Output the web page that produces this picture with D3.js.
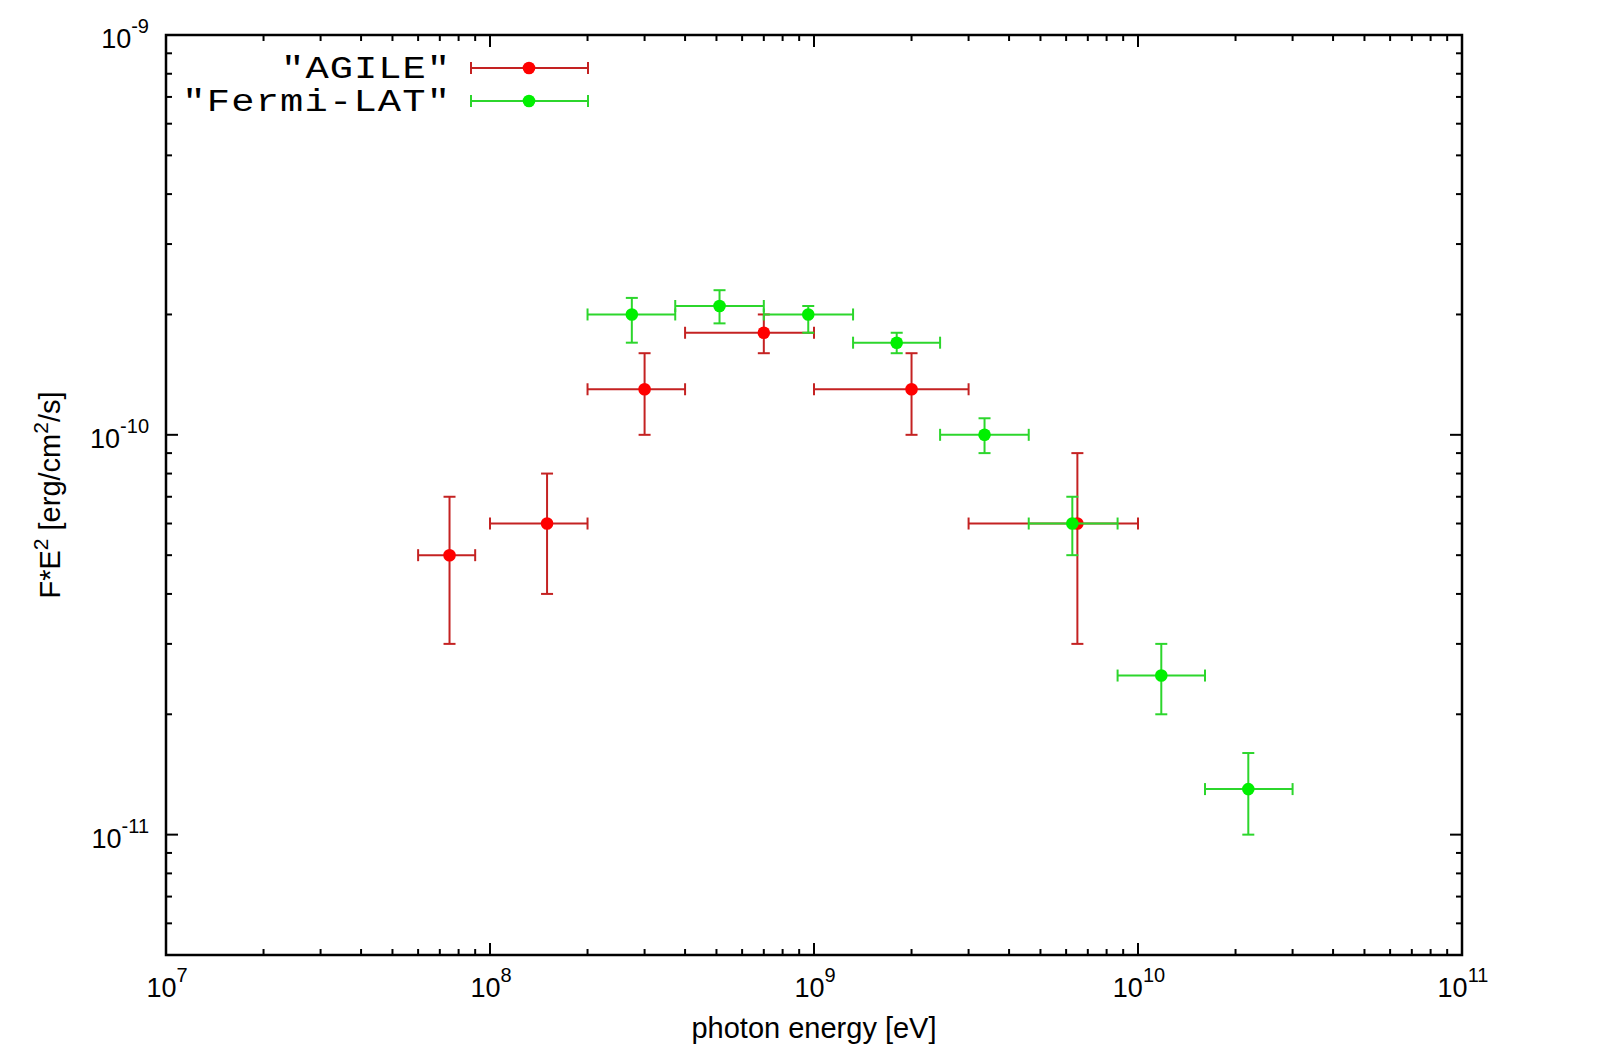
<!DOCTYPE html>
<html>
<head>
<meta charset="utf-8">
<script src="https://cdn.jsdelivr.net/npm/d3@7"></script>
<style>
  body { margin: 0; background: #fff; }
</style>
</head>
<body>
<div id="chart"></div>
<script>
// AGILE points: energy [eV], energy range, flux E^2F [erg/cm2/s], flux error range
var agileE    = [7.5e7, 1.5e8, 3e8, 7e8, 2e9, 6.5e9];
var agileElo  = [6e7, 1e8, 2e8, 4e8, 1e9, 3e9];
var agileEhi  = [9e7, 2e8, 4e8, 1e9, 3e9, 1e10];
var agileF    = [5e-11, 6e-11, 1.3e-10, 1.8e-10, 1.3e-10, 6e-11];
var agileFlo  = [3e-11, 4e-11, 1e-10, 1.6e-10, 1e-10, 3e-11];
var agileFhi  = [7e-11, 8e-11, 1.6e-10, 2e-10, 1.6e-10, 9e-11];

// Fermi-LAT points
var fermiE    = [2.74e8, 5.11e8, 9.6e8, 1.8e9, 3.36e9, 6.27e9, 1.18e10, 2.19e10];
var fermiElo  = [2e8, 3.73e8, 7e8, 1.32e9, 2.45e9, 4.6e9, 8.65e9, 1.61e10];
var fermiEhi  = [3.73e8, 7e8, 1.32e9, 2.45e9, 4.6e9, 8.65e9, 1.61e10, 3e10];
var fermiF    = [2.0e-10, 2.1e-10, 2.0e-10, 1.7e-10, 1.0e-10, 6e-11, 2.5e-11, 1.3e-11];
var fermiFlo  = [1.7e-10, 1.9e-10, 1.8e-10, 1.6e-10, 9e-11, 5e-11, 2e-11, 1e-11];
var fermiFhi  = [2.2e-10, 2.3e-10, 2.1e-10, 1.8e-10, 1.1e-10, 7e-11, 3e-11, 1.6e-11];

var seriesNames = ['"AGILE"', '"Fermi-LAT"'];

// Basic size information
var svgWidth = 1616, svgHeight = 1055;
var box = {left: 166, right: 1462, top: 35, bottom: 955};

var x = d3.scaleLog().domain([1e7, 1e11]).range([box.left, box.right]);
var y = d3.scaleLog().domain([5e-12, 1e-9]).range([box.bottom, box.top]);

var svg = d3.select("#chart")
    .append("svg")
        .attr("width", svgWidth)
        .attr("height", svgHeight)
        .style("background", "#fff");

var tickFont = "'Liberation Sans', Arial, sans-serif";

// Ticks on all four sides (mirrored, pointing inward)
var isMajor = v => Math.abs(Math.log10(v) - Math.round(Math.log10(v))) < 1e-6;
var ticksG = svg.append("g").attr("stroke", "#000").attr("stroke-width", 2);

x.ticks().forEach(v => {
    var len = isMajor(v) ? 12 : 6, px = x(v);
    ticksG.append("line").attr("x1", px).attr("x2", px).attr("y1", box.bottom).attr("y2", box.bottom - len);
    ticksG.append("line").attr("x1", px).attr("x2", px).attr("y1", box.top).attr("y2", box.top + len);
});
y.ticks().forEach(v => {
    var len = isMajor(v) ? 12 : 6, py = y(v);
    ticksG.append("line").attr("y1", py).attr("y2", py).attr("x1", box.left).attr("x2", box.left + len);
    ticksG.append("line").attr("y1", py).attr("y2", py).attr("x1", box.right).attr("x2", box.right - len);
});

// Tick labels 10^n
function powLabel(sel, n) {
    sel.append("tspan").text("10");
    sel.append("tspan").attr("dy", -15).attr("font-size", 20).text(n);
}
x.ticks().filter(isMajor).forEach(v => {
    svg.append("text")
        .attr("x", x(v) + 1).attr("y", 997)
        .attr("text-anchor", "middle")
        .attr("font-family", tickFont).attr("font-size", 27)
        .call(powLabel, Math.round(Math.log10(v)));
});
y.ticks().filter(isMajor).forEach(v => {
    svg.append("text")
        .attr("x", box.left - 17).attr("y", y(v) + 13)
        .attr("text-anchor", "end")
        .attr("font-family", tickFont).attr("font-size", 27)
        .call(powLabel, Math.round(Math.log10(v)));
});

// Axis titles
svg.append("text")
    .attr("x", (box.left + box.right) / 2).attr("y", 1038)
    .attr("text-anchor", "middle")
    .attr("font-family", tickFont).attr("font-size", 29)
    .text("photon energy [eV]");

var yTitle = svg.append("text")
    .attr("transform", "translate(60," + (box.top + box.bottom) / 2 + ") rotate(-90)")
    .attr("text-anchor", "middle")
    .attr("font-family", tickFont).attr("font-size", 29);
yTitle.append("tspan").text("F*E");
yTitle.append("tspan").attr("dy", -12).attr("font-size", 21).text("2");
yTitle.append("tspan").attr("dy", 12).text(" [erg/cm");
yTitle.append("tspan").attr("dy", -12).attr("font-size", 21).text("2");
yTitle.append("tspan").attr("dy", 12).text("/s]");

// Series drawing
var cap = 6, dotR = 6.3;
function drawSeries(E, Elo, Ehi, F, Flo, Fhi, barColor, dotColor) {
    var g = svg.append("g");
    var pts = E.map((e, i) => ({e: e, elo: Elo[i], ehi: Ehi[i], f: F[i], flo: Flo[i], fhi: Fhi[i]}));
    var bars = g.append("g").attr("stroke", barColor).attr("stroke-width", 2).attr("fill", "none");
    pts.forEach(d => {
        var cx = x(d.e), cy = y(d.f);
        bars.append("line").attr("x1", x(d.elo)).attr("x2", x(d.ehi)).attr("y1", cy).attr("y2", cy);
        bars.append("line").attr("x1", x(d.elo)).attr("x2", x(d.elo)).attr("y1", cy - cap).attr("y2", cy + cap);
        bars.append("line").attr("x1", x(d.ehi)).attr("x2", x(d.ehi)).attr("y1", cy - cap).attr("y2", cy + cap);
        bars.append("line").attr("x1", cx).attr("x2", cx).attr("y1", y(d.flo)).attr("y2", y(d.fhi));
        bars.append("line").attr("x1", cx - cap).attr("x2", cx + cap).attr("y1", y(d.flo)).attr("y2", y(d.flo));
        bars.append("line").attr("x1", cx - cap).attr("x2", cx + cap).attr("y1", y(d.fhi)).attr("y2", y(d.fhi));
    });
    g.append("g").selectAll("circle")
        .data(pts)
        .join("circle")
            .attr("cx", d => x(d.e))
            .attr("cy", d => y(d.f))
            .attr("r", dotR)
            .attr("fill", dotColor);
}

var barColors = ["#c42222", "#2cd62c"];
var dotColors = ["#ff0000", "#00f000"];

drawSeries(agileE, agileElo, agileEhi, agileF, agileFlo, agileFhi, barColors[0], dotColors[0]);
drawSeries(fermiE, fermiElo, fermiEhi, fermiF, fermiFlo, fermiFhi, barColors[1], dotColors[1]);

// Legend (wide monospace glyphs, stretched horizontally like the gnuplot font)
var legendScaleX = 1.25;
seriesNames.forEach((name, i) => {
    var ly = 68 + i * 33;
    svg.append("g")
        .attr("transform", "translate(450," + (ly + 10) + ") scale(" + legendScaleX + ",1)")
      .append("text")
        .attr("x", 0).attr("y", 0)
        .attr("text-anchor", "end")
        .attr("font-family", "'Liberation Mono', 'Courier New', monospace")
        .attr("font-size", 31)
        .attr("textLength", (name.length * 24.7 - 4) / legendScaleX)
        .attr("lengthAdjust", "spacing")
        .text(name);
    var lg = svg.append("g").attr("stroke", barColors[i]).attr("stroke-width", 2);
    lg.append("line").attr("x1", 471).attr("x2", 588).attr("y1", ly).attr("y2", ly);
    lg.append("line").attr("x1", 471).attr("x2", 471).attr("y1", ly - cap).attr("y2", ly + cap);
    lg.append("line").attr("x1", 588).attr("x2", 588).attr("y1", ly - cap).attr("y2", ly + cap);
    svg.append("circle").attr("cx", 529).attr("cy", ly).attr("r", dotR).attr("fill", dotColors[i]);
});

// Plot border
svg.append("rect")
    .attr("x", box.left).attr("y", box.top)
    .attr("width", box.right - box.left).attr("height", box.bottom - box.top)
    .attr("fill", "none").attr("stroke", "#000").attr("stroke-width", 2.5);
</script>
</body>
</html>
